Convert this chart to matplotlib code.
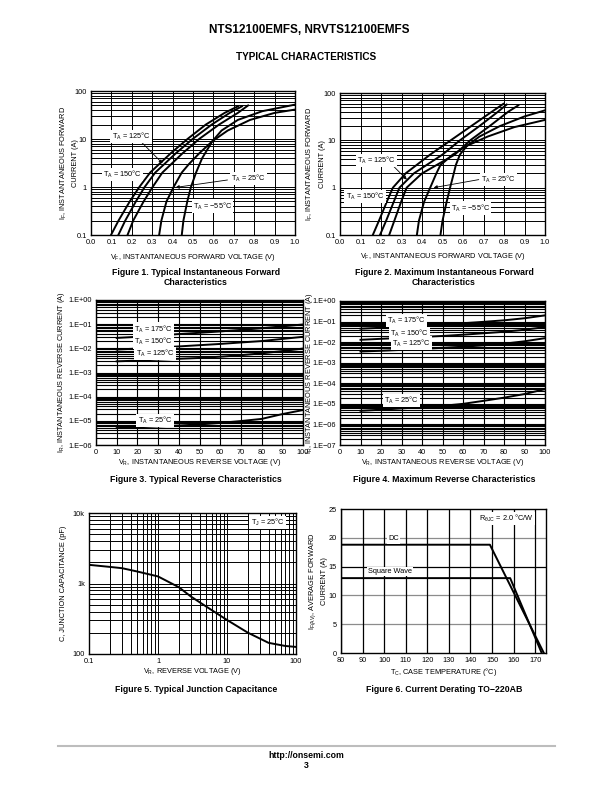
import numpy as np
import matplotlib
matplotlib.use("Agg")
import matplotlib.pyplot as plt
from matplotlib.ticker import LogLocator, FixedLocator, NullFormatter, FixedFormatter

plt.rcParams['font.family'] = ['Liberation Sans', 'DejaVu Sans']
plt.rcParams['mathtext.fontset'] = 'custom'
plt.rcParams['mathtext.rm'] = 'Liberation Sans'
plt.rcParams['axes.unicode_minus'] = True

# ---- Figure 1: typical forward characteristics (V, A)
f1_i = [0.1, 0.2, 0.5, 1, 2, 5, 10, 20, 35, 48]
f1_v175 = [0.098, 0.135, 0.19, 0.237, 0.29, 0.39, 0.473, 0.563, 0.655, 0.72]
f1_v150 = [0.134, 0.168, 0.22, 0.263, 0.315, 0.415, 0.498, 0.592, 0.68, 0.74]
f1_i125 = [0.1, 0.2, 0.5, 1, 2, 5, 10, 20, 35, 50]
f1_v125 = [0.179, 0.207, 0.258, 0.302, 0.35, 0.448, 0.53, 0.628, 0.72, 0.77]
f1_i25 = [0.1, 0.2, 0.5, 1, 2, 3, 5, 9, 15, 25, 35, 41]
f1_v25 = [0.334, 0.345, 0.37, 0.405, 0.445, 0.48, 0.53, 0.595, 0.67, 0.78, 0.9, 1.0]
f1_im55 = [0.1, 0.2, 0.5, 1, 2, 4, 9, 15, 25, 38, 52]
f1_vm55 = [0.445, 0.453, 0.472, 0.49, 0.515, 0.545, 0.595, 0.64, 0.72, 0.84, 1.0]

# ---- Figure 2: maximum forward characteristics
f2_i175 = [0.1, 0.2, 0.5, 1, 2, 5, 10, 20, 40, 59]
f2_v175 = [0.16, 0.19, 0.228, 0.258, 0.32, 0.44, 0.54, 0.64, 0.74, 0.797]
f2_i150 = [0.1, 0.2, 0.5, 1, 2, 5, 10, 20, 40, 57]
f2_v150 = [0.195, 0.225, 0.262, 0.29, 0.36, 0.50, 0.585, 0.68, 0.77, 0.813]
f2_i125 = [0.1, 0.2, 0.5, 1, 2, 5, 10, 20, 40, 55]
f2_v125 = [0.24, 0.265, 0.298, 0.325, 0.40, 0.56, 0.635, 0.73, 0.82, 0.87]
f2_i25 = [0.1, 0.2, 0.5, 1, 2, 3, 5, 7.7, 12, 19, 27]
f2_v25 = [0.375, 0.385, 0.41, 0.44, 0.47, 0.49, 0.55, 0.62, 0.72, 0.85, 1.0]
f2_im55 = [0.1, 0.2, 0.5, 1, 2, 3, 5, 7.7, 12, 20, 32, 43]
f2_vm55 = [0.49, 0.50, 0.52, 0.537, 0.555, 0.565, 0.585, 0.62, 0.68, 0.78, 0.9, 1.0]

# ---- Figures 3/4: reverse current (V, A)
vr = [10, 20, 30, 40, 50, 60, 70, 80, 90, 100]
f3_175 = [0.027, 0.030, 0.034, 0.039, 0.044, 0.050, 0.058, 0.068, 0.081, 0.097]
f3_150 = [0.0089, 0.0098, 0.0108, 0.012, 0.0135, 0.0152, 0.0175, 0.020, 0.0245, 0.030]
f3_125 = [0.0029, 0.0031, 0.0034, 0.0037, 0.0040, 0.0045, 0.0052, 0.0062, 0.0077, 0.0098]
f3_25 = [5.0e-6, 5.4e-6, 5.9e-6, 6.4e-6, 7.1e-6, 8.2e-6, 9.8e-6, 1.2e-5, 1.9e-5, 2.8e-5]
f4_175 = [0.045, 0.05, 0.056, 0.063, 0.072, 0.083, 0.097, 0.115, 0.145, 0.2]
f4_150 = [0.013, 0.0145, 0.016, 0.018, 0.020, 0.023, 0.027, 0.032, 0.040, 0.054]
f4_125 = [0.0035, 0.0038, 0.0042, 0.0047, 0.0053, 0.006, 0.007, 0.0084, 0.011, 0.0156]
f4_25 = [4.6e-6, 5.2e-6, 6.0e-6, 7.0e-6, 8.0e-6, 1.0e-5, 1.4e-5, 2.0e-5, 3.0e-5, 5.2e-5]

# ---- Figure 5: junction capacitance
f5_v = [0.1, 0.2, 0.3, 0.5, 1, 2, 3, 5, 10, 20, 40, 70, 100]
f5_c = [1840, 1720, 1650, 1480, 1260, 887, 653, 471, 304, 201, 144, 130, 126]

# ---- Figure 6: current derating
f6_t_dc = [80, 149, 174]
f6_i_dc = [18.8, 18.8, 0]
f6_t_sq = [80, 158.4, 173]
f6_i_sq = [13, 13, 0]

W, H = 612, 792
fig = plt.figure(figsize=(W / 100, H / 100), dpi=100)
FS = 5.3
LW = 1.4


def add_ax(x0, y0, x1, y1):
    return fig.add_axes([x0 / W, 1 - y1 / H, (x1 - x0) / W, (y1 - y0) / H])


def label(ax, x, y, s):
    ax.text(x, y, s, fontsize=FS, ha='center', va='center', zorder=5,
            bbox=dict(facecolor='white', edgecolor='none', pad=0.8))


def arrow(ax, xy_from, xy_to):
    ax.annotate('', xy=xy_to, xytext=xy_from, zorder=4,
                arrowprops=dict(arrowstyle='-|>', color='k', lw=0.6,
                                mutation_scale=5, shrinkA=0, shrinkB=0))


def style(ax):
    ax.tick_params(which='both', length=0, labelsize=FS, pad=3)
    for s in ax.spines.values():
        s.set_linewidth(1.0)


def axis_labels(ax, xl, yl, xpos, ypos):
    # positions in axes fraction: xl top edge, yl centre
    ax.set_xlabel(xl, fontsize=FS, va='top')
    ax.xaxis.set_label_coords(0.5, xpos)
    ax.set_ylabel(yl, fontsize=FS, va='center', linespacing=1.6)
    ax.yaxis.set_label_coords(ypos, 0.5)


def caption(x, y, s):
    fig.text(x / W, 1 - y / H, s, fontsize=6.3, fontweight='bold',
             ha='center', va='center', linespacing=1.25)


def forward(ax, curves, labels, ypos):
    for v, i in curves:
        ax.plot(v, i, color='k', lw=LW, zorder=3)
    ax.set_yscale('log')
    ax.set_xlim(0, 1)
    ax.set_ylim(0.1, 100)
    ax.xaxis.set_major_locator(FixedLocator(np.arange(0, 1.01, 0.1)))
    ax.xaxis.set_major_formatter(FixedFormatter(['%.1f' % t for t in np.arange(0, 1.01, 0.1)]))
    ax.yaxis.set_major_locator(FixedLocator([0.1, 1, 10, 100]))
    ax.yaxis.set_major_formatter(FixedFormatter(['0.1', '1', '10', '100']))
    ax.yaxis.set_minor_locator(LogLocator(base=10, subs=np.arange(2, 10)))
    ax.yaxis.set_minor_formatter(NullFormatter())
    ax.grid(which='major', color='k', lw=0.7)
    ax.grid(which='minor', axis='y', color='k', lw=0.7)
    style(ax)
    axis_labels(ax, 'V$_\\mathregular{F}$, INSTANTANEOUS FORWARD VOLTAGE (V)',
                'I$_\\mathregular{F}$, INSTANTANEOUS FORWARD\nCURRENT (A)', -0.115, ypos)
    for x, y, s in labels:
        label(ax, x, y, s)


TA = 'T$_\\mathregular{A}$ = '

# Figure 1
ax1 = add_ax(91, 91, 295, 235)
forward(ax1, [(f1_v175, f1_i), (f1_v150, f1_i), (f1_v125, f1_i125),
              (f1_v25, f1_i25), (f1_vm55, f1_im55)],
        [(0.196, 11.2, TA + '125°C'), (0.155, 1.84, TA + '150°C'),
         (0.772, 1.51, TA + '25°C'), (0.595, 0.40, TA + '\u221255°C')], -0.11)
arrow(ax1, (0.245, 8.8), (0.351, 3.1))
arrow(ax1, (0.669, 1.40), (0.415, 0.98))
caption(196, 277.5, 'Figure 1. Typical Instantaneous Forward\nCharacteristics')

# Figure 2
ax2 = add_ax(340, 93, 545, 235)
forward(ax2, [(f2_v175, f2_i175), (f2_v150, f2_i150), (f2_v125, f2_i125),
              (f2_v25, f2_i25), (f2_vm55, f2_im55)],
        [(0.18, 3.75, TA + '125°C'), (0.122, 0.65, TA + '150°C'),
         (0.775, 1.48, TA + '25°C'), (0.636, 0.37, TA + '\u221255°C')], -0.12)
arrow(ax2, (0.253, 3.08), (0.326, 1.48))
arrow(ax2, (0.677, 1.48), (0.457, 1.0))
caption(444, 277.5, 'Figure 2. Maximum Instantaneous Forward\nCharacteristics')


def reverse(ax, curves, ymin, labels, ypos):
    for c in curves:
        ax.plot(vr, c, color='k', lw=LW, zorder=3)
    ax.set_yscale('log')
    ax.set_xlim(0, 100)
    ax.set_ylim(ymin, 1)
    ax.xaxis.set_major_locator(FixedLocator(np.arange(0, 101, 10)))
    exps = list(range(int(round(np.log10(ymin))), 1))
    ax.yaxis.set_major_locator(FixedLocator([10.0 ** e for e in exps]))
    ax.yaxis.set_major_formatter(FixedFormatter(
        ['1.E+00' if e == 0 else '1.E\u2212%02d' % (-e) for e in exps]))
    ax.yaxis.set_minor_locator(LogLocator(base=10, subs=np.arange(2, 10)))
    ax.yaxis.set_minor_formatter(NullFormatter())
    ax.grid(which='major', color='k', lw=0.8)
    ax.grid(which='minor', axis='y', color='k', lw=0.8)
    style(ax)
    axis_labels(ax, 'V$_\\mathregular{R}$, INSTANTANEOUS REVERSE VOLTAGE (V)',
                'I$_\\mathregular{R}$, INSTANTANEOUS REVERSE CURRENT (A)', -0.08, ypos)
    for x, y, s in labels:
        label(ax, x, y, s)


# Figure 3
ax3 = add_ax(96, 300, 303, 445)
reverse(ax3, [f3_175, f3_150, f3_125, f3_25], 1e-6,
        [(27.8, 0.062, TA + '175°C'), (27.8, 0.0186, TA + '150°C'),
         (28.5, 0.0061, TA + '125°C'), (28.5, 1.03e-5, TA + '25°C')], -0.165)
caption(196, 480, 'Figure 3. Typical Reverse Characteristics')

# Figure 4
ax4 = add_ax(340, 301, 545, 445)
reverse(ax4, [f4_175, f4_150, f4_125, f4_25], 1e-7,
        [(32.5, 0.114, TA + '175°C'), (34.1, 0.0254, TA + '150°C'),
         (35.0, 0.0089, TA + '125°C'), (30.0, 1.5e-5, TA + '25°C')], -0.148)
caption(444, 480, 'Figure 4. Maximum Reverse Characteristics')

# Figure 5
ax5 = add_ax(89, 513, 296, 654)
ax5.plot(f5_v, f5_c, color='k', lw=LW, zorder=3)
ax5.set_xscale('log')
ax5.set_yscale('log')
ax5.set_xlim(0.1, 100)
ax5.set_ylim(100, 10000)
ax5.xaxis.set_major_locator(FixedLocator([0.1, 1, 10, 100]))
ax5.xaxis.set_major_formatter(FixedFormatter(['0.1', '1', '10', '100']))
ax5.yaxis.set_major_locator(FixedLocator([100, 1000, 10000]))
ax5.yaxis.set_major_formatter(FixedFormatter(['100', '1k', '10k']))
for a in (ax5.xaxis, ax5.yaxis):
    a.set_minor_locator(LogLocator(base=10, subs=np.arange(2, 10)))
    a.set_minor_formatter(NullFormatter())
ax5.grid(which='both', color='k', lw=0.7)
style(ax5)
axis_labels(ax5, 'V$_\\mathregular{R}$, REVERSE VOLTAGE (V)',
            'C, JUNCTION CAPACITANCE (pF)', -0.085, -0.125)
label(ax5, 38.7, 7360, 'T$_\\mathregular{J}$ = 25°C')
caption(196, 690, 'Figure 5. Typical Junction Capacitance')

# Figure 6
ax6 = add_ax(341, 509, 546, 653)
ax6.plot(f6_t_dc, f6_i_dc, color='k', lw=LW, zorder=3)
ax6.plot(f6_t_sq, f6_i_sq, color='k', lw=LW, zorder=3)
ax6.set_xlim(80, 175)
ax6.set_ylim(0, 25)
ax6.xaxis.set_major_locator(FixedLocator(np.arange(80, 171, 10)))
ax6.yaxis.set_major_locator(FixedLocator(np.arange(0, 26, 5)))
ax6.grid(axis='x', color='k', lw=0.9)
for yv in (5, 10, 20):
    ax6.axhline(yv, color='#8c8c8c', lw=0.9, zorder=1)
ax6.axhline(15, color='k', lw=0.9, zorder=1)
style(ax6)
axis_labels(ax6, 'T$_\\mathregular{C}$, CASE TEMPERATURE (°C)',
            'I$_\\mathregular{F(AV)}$, AVERAGE FORWARD\nCURRENT (A)', -0.09, -0.115)
label(ax6, 104.3, 19.8, 'DC')
label(ax6, 102.7, 14.1, 'Square Wave')
label(ax6, 156.8, 23.4, 'R$_\\mathregular{\\theta JC}$ = 2.0 °C/W')
caption(444, 690, 'Figure 6. Current Derating TO\u2212220AB')

# page header / footer
fig.text(309 / W, 1 - 30 / H, 'NTS12100EMFS, NRVTS12100EMFS', fontsize=8.5,
         fontweight='bold', ha='center', va='center')
fig.text(306 / W, 1 - 57 / H, 'TYPICAL CHARACTERISTICS', fontsize=7.2,
         fontweight='bold', ha='center', va='center')
fig.add_artist(plt.Line2D([58 / W, 555 / W], [1 - 746 / H] * 2, color='#bdbdbd', lw=1.5))
fig.text(306 / W, 1 - 755 / H, 'http://onsemi.com', fontsize=6.3,
         fontweight='bold', ha='center', va='center')
fig.text(306 / W, 1 - 766 / H, '3', fontsize=6.3, fontweight='bold', ha='center', va='center')

fig.savefig('out.png', dpi=100)
